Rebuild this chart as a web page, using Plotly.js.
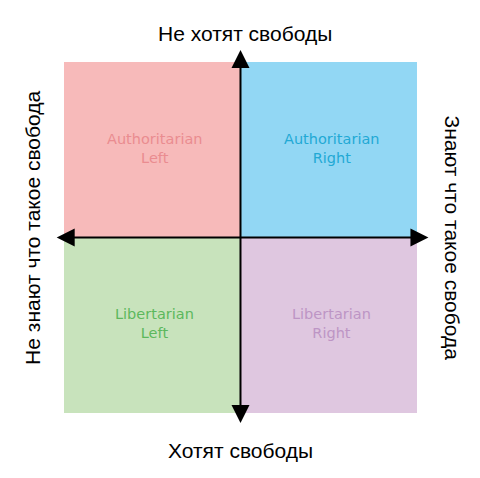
<!DOCTYPE html>
<html><head><meta charset="utf-8">
<script src="https://cdn.plot.ly/plotly-3.0.1.min.js"></script>
<style>html,body{margin:0;padding:0;background:#fff;}#chart{width:480px;height:478px;}</style>
</head><body><div id="chart"></div>
<script>
// Quadrant data
var quadrantNames = ["Authoritarian<br>Left", "Authoritarian<br>Right", "Libertarian<br>Left", "Libertarian<br>Right"];
var quadrantX0 = [-10, 0, -10, 0];
var quadrantX1 = [0, 10, 0, 10];
var quadrantY0 = [0, 0, -10, -10];
var quadrantY1 = [10, 10, 0, 0];
var quadrantFill = ["#F7BABA", "#92D7F4", "#C8E3BC", "#DFC7E0"];
var quadrantText = ["#EA8C90", "#22A9D4", "#5CB85C", "#BD95C5"];
var axisTitles = {top: "Не хотят свободы", bottom: "Хотят свободы", left: "Не знают что такое свобода", right: "Знают что такое свобода"};
var arrowEndsX = [-10.5, 10.65];
var arrowEndsY = [-10.65, 10.68];

var shapes = [];
var annotations = [];
for (var i = 0; i < quadrantNames.length; i++) {
  shapes.push({type: "rect", xref: "x", yref: "y", x0: quadrantX0[i], x1: quadrantX1[i], y0: quadrantY0[i], y1: quadrantY1[i],
    fillcolor: quadrantFill[i], line: {width: 0}, layer: "below"});
  annotations.push({x: (quadrantX0[i] + quadrantX1[i]) / 2 + 0.15, y: (quadrantY0[i] + quadrantY1[i]) / 2 + 0.1, xref: "x", yref: "y",
    text: quadrantNames[i], showarrow: false, font: {family: "DejaVu Sans", size: 14.5, color: quadrantText[i]}, align: "center"});
}
// axis arrows
var arrowStyle = {text: "", showarrow: true, xref: "x", yref: "y", axref: "x", ayref: "y",
  arrowhead: 2, startarrowhead: 2, arrowside: "end+start", arrowsize: 1.8, startarrowsize: 1.8,
  arrowwidth: 2, arrowcolor: "#000", standoff: 0, startstandoff: 0};
annotations.push(Object.assign({x: arrowEndsX[1], y: 0, ax: arrowEndsX[0], ay: 0}, arrowStyle));
annotations.push(Object.assign({x: 0, y: arrowEndsY[1], ax: 0, ay: arrowEndsY[0]}, arrowStyle));

var tf = {family: "Liberation Sans, Arial", size: 21, color: "#000"};
annotations.push({xref: "paper", yref: "paper", x: 0.513, y: 1.031, text: axisTitles.top, showarrow: false, font: tf, xanchor: "center", yanchor: "middle"});
annotations.push({xref: "paper", yref: "paper", x: 0.50, y: -0.052, text: axisTitles.bottom, showarrow: false, font: tf, xanchor: "center", yanchor: "middle"});
annotations.push({xref: "paper", yref: "paper", x: -0.045, y: 0.5247, text: axisTitles.left, showarrow: false, font: tf, textangle: -90, xanchor: "center", yanchor: "middle"});
annotations.push({xref: "paper", yref: "paper", x: 1.058, y: 0.5, text: axisTitles.right, showarrow: false, font: tf, textangle: 90, xanchor: "center", yanchor: "middle"});

var layout = {
  width: 480, height: 478,
  margin: {l: 50, r: 50, t: 45, b: 48},
  paper_bgcolor: "#fff", plot_bgcolor: "#fff",
  xaxis: {range: [-10.793, 10.737], visible: false, fixedrange: true},
  yaxis: {range: [-10.969, 10.969], visible: false, fixedrange: true},
  shapes: shapes, annotations: annotations, showlegend: false
};
Plotly.newPlot("chart", [{x: [], y: [], type: "scatter", hoverinfo: "skip"}], layout, {staticPlot: true, displayModeBar: false});
</script></body></html>
